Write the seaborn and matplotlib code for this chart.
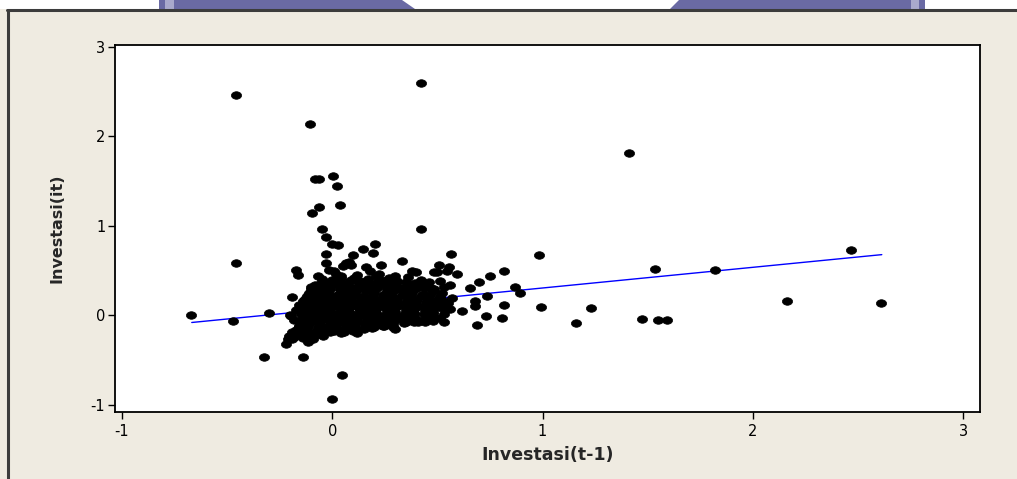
import numpy as np
import matplotlib
matplotlib.use("Agg")
import matplotlib.pyplot as plt
import seaborn as sns
from matplotlib.path import Path
from matplotlib.patches import Rectangle, Polygon
from matplotlib.lines import Line2D

# ---------------- data ----------------
outliers = [(-0.67, 0.0), (-0.46, 2.46), (-0.46, 0.58), (-0.47, -0.06), (-0.105, 2.14),
            (0.42, 2.59), (1.41, 1.81), (0.42, 0.97), (-0.081, 1.52), (-0.062, 1.52),
            (0.005, 1.56), (0.024, 1.45), (0.038, 1.23), (-0.062, 1.21), (-0.095, 1.14),
            (-0.048, 0.97), (0.0, -0.93), (0.048, -0.67), (0.983, 0.67), (0.993, 0.09),
            (1.16, -0.09), (1.23, 0.08), (1.475, -0.037), (1.536, 0.517), (1.551, -0.05),
            (1.594, -0.05), (1.822, 0.503), (2.161, 0.156), (2.466, 0.726), (2.61, 0.14),
            (-0.325, -0.47), (-0.138, -0.47), (-0.20, 0.0)]

edge_points = [(-0.029, 0.87), (0.0, 0.80), (0.029, 0.79), (0.205, 0.80), (0.148, 0.74),
               (0.196, 0.70), (-0.029, 0.68), (0.10, 0.67), (0.081, 0.60), (0.067, 0.59),
               (-0.029, 0.59), (0.091, 0.56), (0.162, 0.54), (0.234, 0.56), (-0.172, 0.51),
               (-0.162, 0.45), (-0.014, 0.51), (0.01, 0.49), (0.053, 0.55), (-0.067, 0.44),
               (0.043, 0.44), (0.105, 0.42), (0.181, 0.49), (0.21, 0.44), (-0.005, 0.37),
               (-0.10, 0.32), (-0.091, 0.26), (-0.19, 0.20), (-0.30, 0.03), (-0.196, -0.01),
               (-0.138, 0.045), (-0.158, -0.12), (-0.205, -0.235), (-0.22, -0.32),
               (-0.115, -0.30), (-0.019, -0.18), (0.115, -0.16),
               (0.563, 0.68), (0.334, 0.61), (0.506, 0.56), (0.554, 0.54), (0.544, 0.49),
               (0.40, 0.48), (0.377, 0.49), (0.482, 0.48), (0.496, 0.48), (0.592, 0.46),
               (0.816, 0.49), (0.749, 0.44), (0.697, 0.37), (0.654, 0.31), (0.511, 0.38),
               (0.558, 0.335), (0.869, 0.32), (0.735, 0.22), (0.506, 0.18), (0.678, 0.16),
               (0.678, 0.10), (0.616, 0.045), (0.816, 0.11), (0.558, 0.07), (0.73, -0.01),
               (0.807, -0.035), (0.687, -0.11), (0.53, -0.07), (0.41, -0.07), (0.353, -0.08),
               (0.893, 0.245)]

core_points = [
    (-0.05, 0.41), (0.00, 0.39), (0.04, 0.42), (0.09, 0.40), (0.13, 0.38), (0.17, 0.41),
    (0.23, 0.39), (0.27, 0.42), (0.31, 0.38), (0.42, 0.40), (0.46, 0.37),
    (-0.08, 0.34), (-0.03, 0.32), (0.02, 0.35), (0.06, 0.33), (0.10, 0.31), (0.15, 0.34),
    (0.19, 0.32), (0.24, 0.35), (0.28, 0.33), (0.33, 0.31), (0.37, 0.34), (0.41, 0.32), (0.47, 0.30),
    (-0.11, 0.25), (-0.06, 0.27), (-0.02, 0.26), (0.03, 0.24), (0.07, 0.27), (0.11, 0.25),
    (0.16, 0.28), (0.20, 0.26), (0.25, 0.24), (0.29, 0.27), (0.34, 0.25), (0.38, 0.26),
    (0.43, 0.24), (0.48, 0.27), (0.52, 0.25),
    (-0.13, 0.18), (-0.08, 0.20), (-0.04, 0.19), (0.01, 0.17), (0.05, 0.20), (0.09, 0.18),
    (0.14, 0.21), (0.18, 0.19), (0.22, 0.17), (0.27, 0.20), (0.31, 0.18), (0.36, 0.19),
    (0.40, 0.17), (0.45, 0.21), (0.57, 0.19),
    (-0.12, 0.11), (-0.07, 0.13), (-0.03, 0.12), (0.02, 0.10), (0.06, 0.13), (0.10, 0.11),
    (0.15, 0.14), (0.19, 0.12), (0.24, 0.10), (0.28, 0.13), (0.32, 0.11), (0.37, 0.12),
    (0.41, 0.10), (0.46, 0.13), (0.50, 0.11),
    (-0.14, 0.04), (-0.09, 0.06), (-0.05, 0.05), (0.00, 0.03), (0.04, 0.06), (0.08, 0.04),
    (0.13, 0.07), (0.17, 0.05), (0.21, 0.03), (0.26, 0.06), (0.30, 0.04), (0.35, 0.05),
    (0.39, 0.03), (0.44, 0.06), (0.48, 0.04),
    (-0.13, -0.03), (-0.08, -0.01), (-0.04, -0.02), (0.01, -0.04), (0.05, -0.01), (0.09, -0.03),
    (0.14, 0.00), (0.18, -0.02), (0.23, -0.04), (0.27, -0.01), (0.32, -0.03), (0.36, -0.02),
    (0.40, -0.04), (0.45, -0.01), (0.51, -0.03),
    (-0.15, -0.10), (-0.10, -0.08), (-0.06, -0.09), (-0.01, -0.11), (0.03, -0.08), (0.07, -0.10),
    (0.12, -0.07), (0.16, -0.09), (0.20, -0.11), (0.25, -0.08), (0.29, -0.10), (0.34, -0.09),
    (0.39, -0.08), (0.44, -0.07),
    (-0.17, -0.16), (-0.12, -0.14), (-0.07, -0.15), (-0.03, -0.17), (0.02, -0.14), (0.06, -0.16),
    (0.10, -0.13), (0.15, -0.15), (0.19, -0.14), (0.24, -0.12),
    (-0.16, -0.22), (-0.11, -0.20), (-0.06, -0.21), (-0.01, -0.19), (0.04, -0.20),
    (-0.19, -0.27), (-0.14, -0.25), (-0.09, -0.26),
    (-0.16, 0.12), (-0.17, 0.06), (-0.18, -0.05), (-0.19, -0.19), (-0.21, -0.27),
    (0.12, 0.45), (0.22, 0.46), (0.30, 0.44), (0.36, 0.43), (0.02, 0.46),
    (0.53, 0.32), (0.55, 0.14), (0.53, 0.02), (0.30, -0.15), (0.12, -0.20),
]

fill_points = [
    (-0.055, 0.365), (-0.01, 0.37), (0.035, 0.36), (0.08, 0.37), (0.125, 0.36), (0.17, 0.365),
    (0.215, 0.37), (0.26, 0.36), (0.305, 0.365), (0.35, 0.37), (0.395, 0.36), (0.44, 0.35),
    (-0.10, 0.29), (-0.055, 0.30), (-0.01, 0.29), (0.035, 0.295), (0.08, 0.30), (0.125, 0.29),
    (0.17, 0.295), (0.215, 0.30), (0.26, 0.29), (0.305, 0.295), (0.35, 0.30), (0.395, 0.29),
    (0.44, 0.30), (0.485, 0.29),
    (-0.12, 0.22), (-0.075, 0.23), (-0.03, 0.225), (0.015, 0.22), (0.06, 0.23), (0.105, 0.225),
    (0.15, 0.22), (0.195, 0.23), (0.24, 0.225), (0.285, 0.22), (0.33, 0.23), (0.375, 0.225),
    (0.42, 0.22), (0.465, 0.23), (0.51, 0.22),
    (-0.14, 0.155), (-0.095, 0.15), (-0.05, 0.16), (-0.005, 0.155), (0.04, 0.15), (0.085, 0.16),
    (0.13, 0.155), (0.175, 0.15), (0.22, 0.16), (0.265, 0.155), (0.31, 0.15), (0.355, 0.16),
    (0.40, 0.155), (0.445, 0.15), (0.49, 0.16), (0.53, 0.155),
    (-0.145, 0.085), (-0.10, 0.09), (-0.055, 0.08), (-0.01, 0.085), (0.035, 0.09), (0.08, 0.08),
    (0.125, 0.085), (0.17, 0.09), (0.215, 0.08), (0.26, 0.085), (0.305, 0.09), (0.35, 0.08),
    (0.395, 0.085), (0.44, 0.09), (0.485, 0.08), (0.52, 0.085),
    (-0.15, 0.015), (-0.105, 0.02), (-0.06, 0.01), (-0.015, 0.015), (0.03, 0.02), (0.075, 0.01),
    (0.12, 0.015), (0.165, 0.02), (0.21, 0.01), (0.255, 0.015), (0.30, 0.02), (0.345, 0.01),
    (0.39, 0.015), (0.435, 0.02), (0.48, 0.01),
    (-0.15, -0.055), (-0.105, -0.05), (-0.06, -0.06), (-0.015, -0.055), (0.03, -0.05),
    (0.075, -0.06), (0.12, -0.055), (0.165, -0.05), (0.21, -0.06), (0.255, -0.055),
    (0.30, -0.05), (0.345, -0.06), (0.39, -0.055), (0.435, -0.05), (0.48, -0.06),
    (-0.16, -0.125), (-0.115, -0.12), (-0.07, -0.13), (-0.025, -0.125), (0.02, -0.12),
    (0.065, -0.13), (0.11, -0.125), (0.155, -0.12), (0.20, -0.13), (0.245, -0.12),
    (0.29, -0.125),
    (-0.17, -0.185), (-0.125, -0.18), (-0.08, -0.19), (-0.035, -0.185), (0.01, -0.18),
    (0.055, -0.19), (0.10, -0.18),
    (-0.18, -0.24), (-0.135, -0.235), (-0.09, -0.24), (-0.045, -0.23),
]

# fitted regression line (endpoints)
fit_x = [-0.668, 2.613]
fit_y = [-0.080, 0.678]

x_ticks = [-1, 0, 1, 2, 3]
y_ticks = [-1, 0, 1, 2, 3]
x_label = "Investasi(t-1)"
y_label = "Investasi(it)"

all_pts = outliers + edge_points + core_points + fill_points
x_vals = np.array([p[0] for p in all_pts])
y_vals = np.array([p[1] for p in all_pts])

# ---------------- drawing ----------------
sns.set_style("white")
plt.rcParams['font.family'] = ['DejaVu Sans']

W, H = 1017, 479
bg = '#EFEBE1'
fig = plt.figure(figsize=(W / 100, H / 100), dpi=100, facecolor=bg)

# white strip + watermark fragments above the frame
fig.add_artist(Rectangle((0, 1 - 9 / H), 1, 9 / H, transform=fig.transFigure,
                         facecolor='white', edgecolor='none', zorder=0))
purple = '#6A6AA4'
fig.add_artist(Polygon([(159 / W, 1), (402 / W, 1), (415 / W, 1 - 9 / H), (159 / W, 1 - 9 / H)],
                       closed=True, transform=fig.transFigure, facecolor=purple,
                       edgecolor='none', zorder=1))
fig.add_artist(Polygon([(679 / W, 1), (925 / W, 1), (925 / W, 1 - 9 / H), (670 / W, 1 - 9 / H)],
                       closed=True, transform=fig.transFigure, facecolor=purple,
                       edgecolor='none', zorder=1))
for xa, xb in [(165, 174), (911, 919)]:
    fig.add_artist(Rectangle((xa / W, 1 - 9 / H), (xb - xa) / W, 9 / H, transform=fig.transFigure,
                             facecolor='#A9A9CC', edgecolor='none', zorder=2))

# frame lines (left and top)
fig.add_artist(Line2D([8 / W, 8 / W], [0, 1 - 9.5 / H], transform=fig.transFigure,
                      color='#3C3C3C', lw=2.2, zorder=3))
fig.add_artist(Line2D([7 / W, 1], [1 - 9.5 / H, 1 - 9.5 / H], transform=fig.transFigure,
                      color='#3C3C3C', lw=2.2, zorder=3))

ax = fig.add_axes([115 / W, 1 - 412 / H, 865 / W, 367 / H])
ax.set_facecolor('white')

ell = Path.unit_circle()
ell = Path(ell.vertices * np.array([1.0, 0.74]), ell.codes)

sns.scatterplot(x=x_vals, y=y_vals, ax=ax, marker=ell, s=54, color='black',
                edgecolor='black', linewidth=0.5, zorder=3)
sns.lineplot(x=fit_x, y=fit_y, ax=ax, color='#0000FF', lw=1.0, zorder=2)

ax.set_xlim(-1.033, 3.08)
ax.set_ylim(-1.08, 3.02)
ax.set_xticks(x_ticks)
ax.set_yticks(y_ticks)
ax.set_xticklabels([str(t) for t in x_ticks])
ax.set_yticklabels([str(t) for t in y_ticks])

ax.tick_params(axis='both', direction='out', length=5, width=1, colors='black',
               labelsize=10.5, bottom=True, left=True, top=False, right=False)
ax.tick_params(axis='x', pad=3.5)
ax.tick_params(axis='y', pad=2)
for sp in ax.spines.values():
    sp.set_visible(True)
    sp.set_color('black')
    sp.set_linewidth(1.3)

ax.set_xlabel(x_label, fontsize=12.5, fontweight='bold', labelpad=5)
ax.set_ylabel(y_label, fontsize=11.5, fontweight='bold', labelpad=19)

fig.savefig('out.png', dpi=100, facecolor=bg)
